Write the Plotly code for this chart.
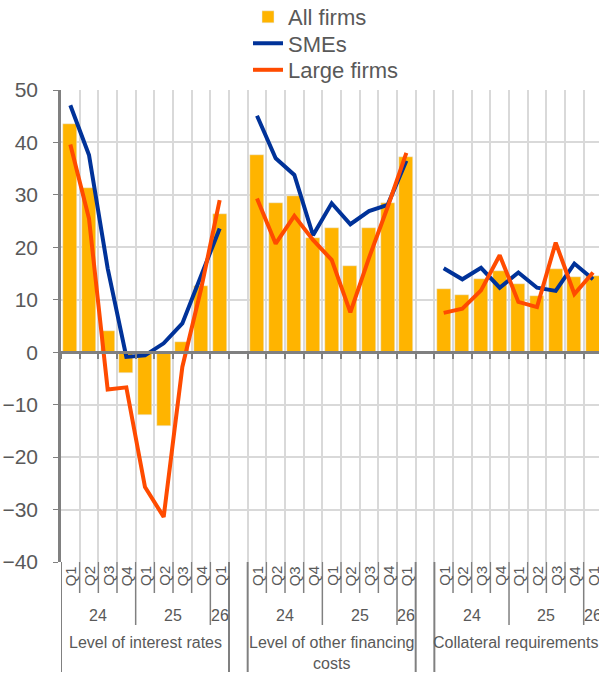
import plotly.graph_objects as go

quarters = ["Q1", "Q2", "Q3", "Q4", "Q1", "Q2", "Q3", "Q4", "Q1"]
years = ["24", "25", "26"]
year_spans = [(0, 3), (4, 7), (8, 8)]
groups = ["Level of interest rates", "Level of other financing<br>costs", "Collateral requirements"]

all_firms = [
    [43.6, 31.4, 4.0, -3.9, -11.9, -14.1, 2.0, 12.6, 26.4],
    [37.6, 28.4, 29.8, 21.8, 23.7, 16.5, 23.6, 28.4, 37.3],
    [12.0, 11.0, 14.0, 15.5, 13.0, 10.7, 15.8, 14.3, 14.5],
]
smes = [
    [47.1, 37.6, 16.0, -0.9, -0.6, 1.7, 5.5, 14.4, 23.6],
    [45.1, 37.0, 33.8, 22.3, 28.4, 24.4, 26.9, 28.1, 36.5],
    [16.0, 13.9, 16.1, 12.3, 15.2, 12.3, 11.7, 16.9, 13.9],
]
large = [
    [39.6, 25.5, -7.1, -6.7, -25.7, -31.4, -2.8, 12.0, 29.0],
    [29.3, 20.7, 26.0, 21.4, 17.6, 7.6, 18.0, 27.7, 38.0],
    [7.5, 8.3, 11.8, 18.5, 9.6, 8.6, 20.9, 11.1, 15.2],
]

GAP = len(quarters) + 1
C_BAR = "#FFB400"
C_SME = "#003299"
C_LARGE = "#FF4B00"
TXT = "#595959"
GRID = "#D9D9D9"
AX = "#808080"
FONT = "Arial, Liberation Sans, sans-serif"

bx, by, sx, sy, lx, ly = [], [], [], [], [], []
for g in range(len(groups)):
    base = g * GAP
    for i in range(len(quarters)):
        bx.append(base + i); by.append(all_firms[g][i])
        sx.append(base + i); sy.append(smes[g][i])
        lx.append(base + i); ly.append(large[g][i])
    sx.append(None); sy.append(None)
    lx.append(None); ly.append(None)

fig = go.Figure()
fig.add_trace(go.Bar(x=bx, y=by, name="All firms", marker_color=C_BAR, width=0.75,
                     legend="legend"))
fig.add_trace(go.Scatter(x=sx, y=sy, name="SMEs", mode="lines",
                         line=dict(color=C_SME, width=4), connectgaps=False,
                         legend="legend2"))
fig.add_trace(go.Scatter(x=lx, y=ly, name="Large firms", mode="lines",
                         line=dict(color=C_LARGE, width=4), connectgaps=False,
                         legend="legend3"))

ymin, ymax = -40, 50
n_slots = GAP * len(groups) - 1
boundaries = [k - 0.5 for k in range(n_slots + 1)]

PLOT_TOP, PLOT_BOT = 90, 562
PH = PLOT_BOT - PLOT_TOP
px = 1.0 / PH


def leg(row_y):
    return dict(x=0.3476, y=(PLOT_BOT - row_y) / PH, xanchor="left", yanchor="middle",
                font=dict(size=22, color=TXT, family=FONT), bgcolor="rgba(0,0,0,0)",
                borderwidth=0)


fig.update_layout(
    width=599, height=681,
    margin=dict(l=61, r=0, t=PLOT_TOP, b=681 - PLOT_BOT, autoexpand=False),
    plot_bgcolor="white", paper_bgcolor="white",
    font=dict(family=FONT, color=TXT),
    bargap=0,
    showlegend=True,
    legend=leg(17),
    legend2=leg(43.5),
    legend3=leg(70),
    xaxis=dict(range=[-0.5, 28.32], tickmode="array", tickvals=boundaries,
               showticklabels=False, showgrid=True, gridcolor=GRID, gridwidth=2,
               zeroline=False, showline=True, linecolor=AX, linewidth=2.5,
               ticks="outside", ticklen=5, tickcolor=AX, tickwidth=2,
               anchor="free", position=(0 - ymin) / (ymax - ymin), automargin=False),
    yaxis=dict(range=[ymin, ymax], dtick=10, tick0=0, showgrid=True, gridcolor=GRID,
               gridwidth=2, zeroline=False, showline=True, linecolor=AX,
               linewidth=2.5, ticks="outside", ticklen=5, tickcolor=AX,
               ticklabelstandoff=11,
               tickfont=dict(size=21, color=TXT), automargin=False),
)

shapes = []
annotations = []
for g in range(len(groups)):
    base = g * GAP
    n = len(quarters)
    for e in (base - 0.5, base + n - 0.5):
        shapes.append(dict(type="line", xref="x", yref="paper", x0=e, x1=e,
                           y0=0, y1=-110 * px, line=dict(color=AX, width=2)))
    for i in range(1, n):
        e = base + i - 0.5
        long = any(i == s for s, _ in year_spans[1:])
        shapes.append(dict(type="line", xref="x", yref="paper", x0=e, x1=e,
                           y0=0, y1=(-63 if long else -31) * px,
                           line=dict(color=AX, width=1.5)))
    for i, q in enumerate(quarters):
        annotations.append(dict(x=base + i, y=-2 * px, xref="x", yref="paper",
                                text=q, textangle=-90, showarrow=False,
                                xanchor="center", yanchor="top",
                                font=dict(size=15, color=TXT)))
    for yl, (s, e) in zip(years, year_spans):
        annotations.append(dict(x=base + (s + e) / 2, y=-53 * px, xref="x", yref="paper",
                                text=yl, showarrow=False, xanchor="center",
                                yanchor="middle", font=dict(size=16, color=TXT)))
    annotations.append(dict(x=base + (n - 1) / 2, y=-70 * px, xref="x", yref="paper",
                            text=groups[g], showarrow=False, xanchor="center",
                            yanchor="top", xshift=(-3 if g == len(groups) - 1 else 0),
                            font=dict(size=16, color=TXT)))

fig.update_layout(shapes=shapes, annotations=annotations)
fig.write_html("out.html",
               config={"displayModeBar": False},
               post_script="document.body.style.margin='0';"
                           "document.body.style.overflow='hidden';")
